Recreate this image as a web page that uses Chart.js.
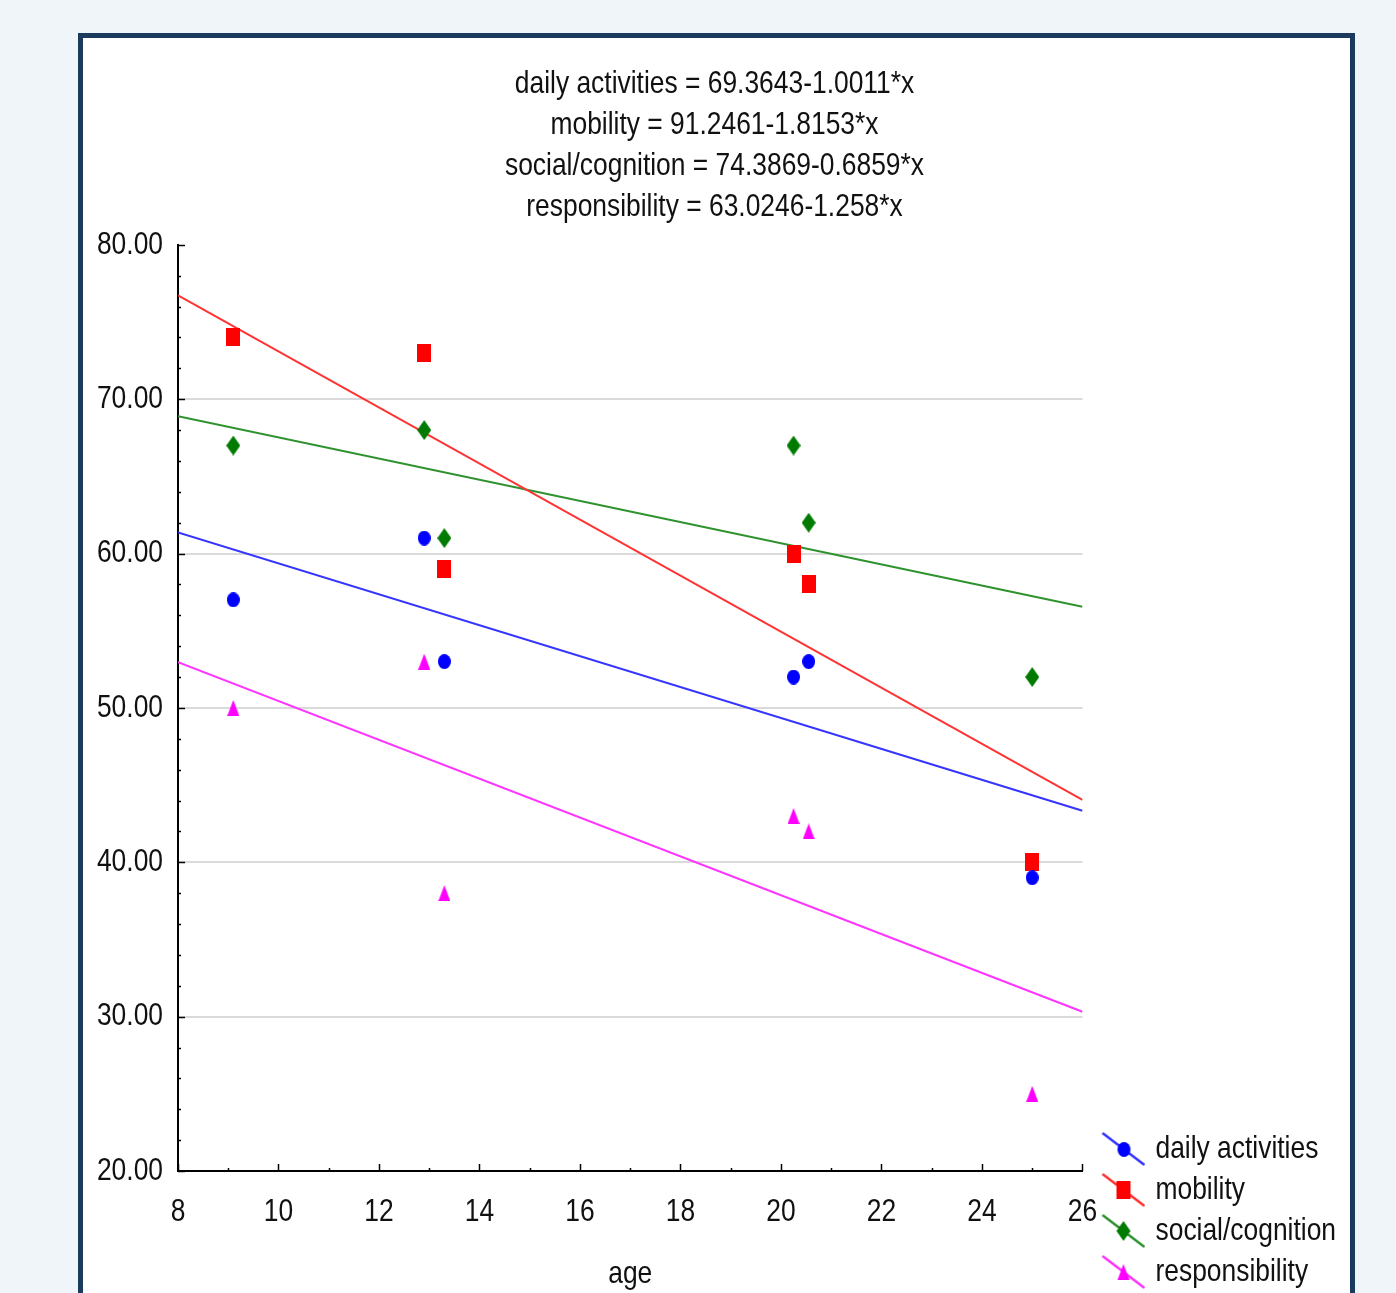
<!DOCTYPE html>
<html>
<head>
<meta charset="utf-8">
<script src="https://cdn.jsdelivr.net/npm/chart.js@4.4.1/dist/chart.umd.min.js"></script>
<style>
html, body { margin: 0; padding: 0; overflow: hidden; background: #f0f5fa; }
#frame { position: absolute; left: 78px; top: 33px; width: 1267px; height: 1280px; border: 5px solid #1c3a5e; background: #fff; }
canvas { display: block; }
</style>
</head>
<body>
<div id="frame"><canvas id="chart" width="1267" height="1259"></canvas></div>
<script>
// values
const seriesNames = ['daily activities', 'mobility', 'social/cognition', 'responsibility'];
const ages = [9.1, 12.9, 13.3, 20.25, 20.55, 25.0];
const dailyActivities = [57, 61, 53, 52, 53, 39];
const mobility = [74, 73, 59, 60, 58, 40];
const socialCognition = [67, 68, 61, 67, 62, 52];
const responsibility = [50, 53, 38, 43, 42, 25];

// fitted lines, value at age 8 and at age 26
const fitAges = [8, 26];
const fitDaily = [61.36, 43.34];
const fitMobility = [76.72, 44.05];
const fitSocial = [68.90, 56.55];
const fitResponsibility = [52.96, 30.32];

const equationLines = [
    'daily activities = 69.3643-1.0011*x',
    'mobility = 91.2461-1.8153*x',
    'social/cognition = 74.3869-0.6859*x',
    'responsibility = 63.0246-1.258*x'
];
const xTickValues = [8, 10, 12, 14, 16, 18, 20, 22, 24, 26];
const yTickValues = [20, 30, 40, 50, 60, 70, 80];
const xAxisTitle = 'age';

const fontFamily = "'Liberation Sans', Arial, sans-serif";
const narrowFactor = 0.825; // the original uses a narrow face
const textColor = '#111111';
const markerColors = ['#0000ff', '#ff0000', '#007a00', '#ff00ff'];
const lineColors = ['#3535ff', '#ff3333', '#2f922f', '#ff35ff'];

function makeMarker(shape, color, w, h) {
    const c = document.createElement('canvas');
    c.width = w;
    c.height = h;
    const g = c.getContext('2d');
    g.fillStyle = color;
    g.beginPath();
    if (shape === 'circle') {
        g.ellipse(w / 2, h / 2, w / 2, h / 2, 0, 0, Math.PI * 2);
    } else if (shape === 'square') {
        g.rect(0, 0, w, h);
    } else if (shape === 'diamond') {
        g.moveTo(w / 2, 0); g.lineTo(w, h / 2); g.lineTo(w / 2, h); g.lineTo(0, h / 2); g.closePath();
    } else {
        g.moveTo(w / 2, 0); g.lineTo(w, h); g.lineTo(0, h); g.closePath();
    }
    g.fill();
    return c;
}

const markers = [
    makeMarker('circle', markerColors[0], 13, 15),
    makeMarker('square', markerColors[1], 14, 18),
    makeMarker('diamond', markerColors[2], 14, 20),
    makeMarker('triangle', markerColors[3], 12, 16)
];

// legend sample: slanted line with the marker, drawn in the right part of a wider canvas
function makeLegendGlyph(i) {
    const c = document.createElement('canvas');
    c.width = 60;
    c.height = 34;
    const g = c.getContext('2d');
    g.strokeStyle = lineColors[i];
    g.lineWidth = 2.5;
    g.beginPath();
    g.moveTo(17, 1);
    g.lineTo(59, 33);
    g.stroke();
    const m = markers[i];
    g.drawImage(m, Math.round(38 - m.width / 2), Math.round(17 - m.height / 2));
    return c;
}
const legendGlyphs = seriesNames.map((_, i) => makeLegendGlyph(i));

const pointSeries = [dailyActivities, mobility, socialCognition, responsibility];
const fitSeries = [fitDaily, fitMobility, fitSocial, fitResponsibility];

const datasets = [];
pointSeries.forEach((vals, i) => {
    datasets.push({
        label: seriesNames[i],
        data: ages.map((a, j) => ({x: a, y: vals[j]})),
        pointStyle: markers[i],
        pointRadius: 8,
        showLine: false
    });
});
fitSeries.forEach((vals, i) => {
    datasets.push({
        label: seriesNames[i] + ' fit',
        data: fitAges.map((a, j) => ({x: a, y: vals[j]})),
        showLine: true,
        borderColor: lineColors[i],
        borderWidth: 2,
        pointRadius: 0,
        fill: false
    });
});

// squeeze all chart text horizontally, measuring and drawing alike
const narrowText = {
    id: 'narrowText',
    beforeInit(chart) {
        const ctx = chart.ctx;
        const fill = ctx.fillText.bind(ctx);
        const measure = ctx.measureText.bind(ctx);
        ctx.fillText = function (text, x, y, maxWidth) {
            ctx.save();
            ctx.translate(x, y);
            ctx.scale(narrowFactor, 1);
            if (maxWidth !== undefined) fill(text, 0, 0, maxWidth / narrowFactor);
            else fill(text, 0, 0);
            ctx.restore();
        };
        ctx.measureText = function (text) {
            const m = measure(text);
            return {
                width: m.width * narrowFactor,
                actualBoundingBoxAscent: m.actualBoundingBoxAscent,
                actualBoundingBoxDescent: m.actualBoundingBoxDescent,
                actualBoundingBoxLeft: m.actualBoundingBoxLeft * narrowFactor,
                actualBoundingBoxRight: m.actualBoundingBoxRight * narrowFactor
            };
        };
    }
};

const innerTicks = {
    id: 'innerTicks',
    afterDraw(chart) {
        const {ctx, chartArea} = chart;
        const x = chart.scales.x, y = chart.scales.y;
        ctx.save();
        ctx.strokeStyle = '#000';
        ctx.lineWidth = 1.5;
        for (let v = x.min; v <= x.max; v += 1) {
            const px = Math.round(x.getPixelForValue(v)) + 0.5;
            const len = xTickValues.includes(v) ? 7 : 3;
            ctx.beginPath();
            ctx.moveTo(px, chartArea.bottom);
            ctx.lineTo(px, chartArea.bottom - len);
            ctx.stroke();
        }
        for (let v = y.min; v <= y.max; v += 2) {
            const py = Math.round(y.getPixelForValue(v)) + 0.5;
            const len = yTickValues.includes(v) ? 7 : 3;
            ctx.beginPath();
            ctx.moveTo(chartArea.left, py);
            ctx.lineTo(chartArea.left + len, py);
            ctx.stroke();
        }
        ctx.restore();
    }
};

const baseFont = {family: fontFamily, size: 32};

new Chart(document.getElementById('chart').getContext('2d'), {
    type: 'scatter',
    data: {datasets},
    options: {
        responsive: false,
        animation: false,
        layout: {padding: {left: 0, right: 4, top: 0, bottom: 0}},
        scales: {
            x: {
                type: 'linear',
                min: 8,
                max: 26,
                afterBuildTicks: s => { s.ticks = xTickValues.map(v => ({value: v})); },
                grid: {display: false, drawTicks: false},
                border: {display: true, color: '#000', width: 2},
                ticks: {font: baseFont, color: textColor, padding: 22, maxRotation: 0, callback: v => String(v)},
                title: {display: true, text: xAxisTitle, font: baseFont, color: textColor, padding: {top: 0, bottom: 4}},
                afterFit: s => { s.height = 126; }
            },
            y: {
                type: 'linear',
                min: 20,
                max: 80,
                afterBuildTicks: s => { s.ticks = yTickValues.map(v => ({value: v})); },
                grid: {
                    drawTicks: false,
                    lineWidth: 2,
                    color: c => (c.tick && (c.tick.value === 20 || c.tick.value === 80)) ? 'rgba(0,0,0,0)' : '#dadada'
                },
                border: {display: true, color: '#000', width: 2},
                ticks: {font: baseFont, color: textColor, padding: 15, callback: v => Number(v).toFixed(2)},
                afterFit: s => { s.width = 95; }
            }
        },
        plugins: {
            title: {
                display: true,
                text: equationLines,
                color: textColor,
                font: {family: fontFamily, size: 32, weight: 'normal', lineHeight: 1.28},
                padding: {top: 26, bottom: 17}
            },
            legend: {
                position: 'right',
                align: 'end',
                labels: {
                    usePointStyle: true,
                    boxWidth: 48,
                    pointStyleWidth: 48,
                    padding: 9,
                    font: baseFont,
                    color: textColor,
                    generateLabels: () => seriesNames.map((name, i) => ({
                        text: name,
                        pointStyle: legendGlyphs[i],
                        fillStyle: 'rgba(0,0,0,0)',
                        strokeStyle: 'rgba(0,0,0,0)',
                        lineWidth: 0,
                        hidden: false,
                        fontColor: textColor,
                        datasetIndex: i
                    }))
                }
            },
            tooltip: {enabled: false}
        }
    },
    plugins: [narrowText, innerTicks]
});
</script>
</body>
</html>
